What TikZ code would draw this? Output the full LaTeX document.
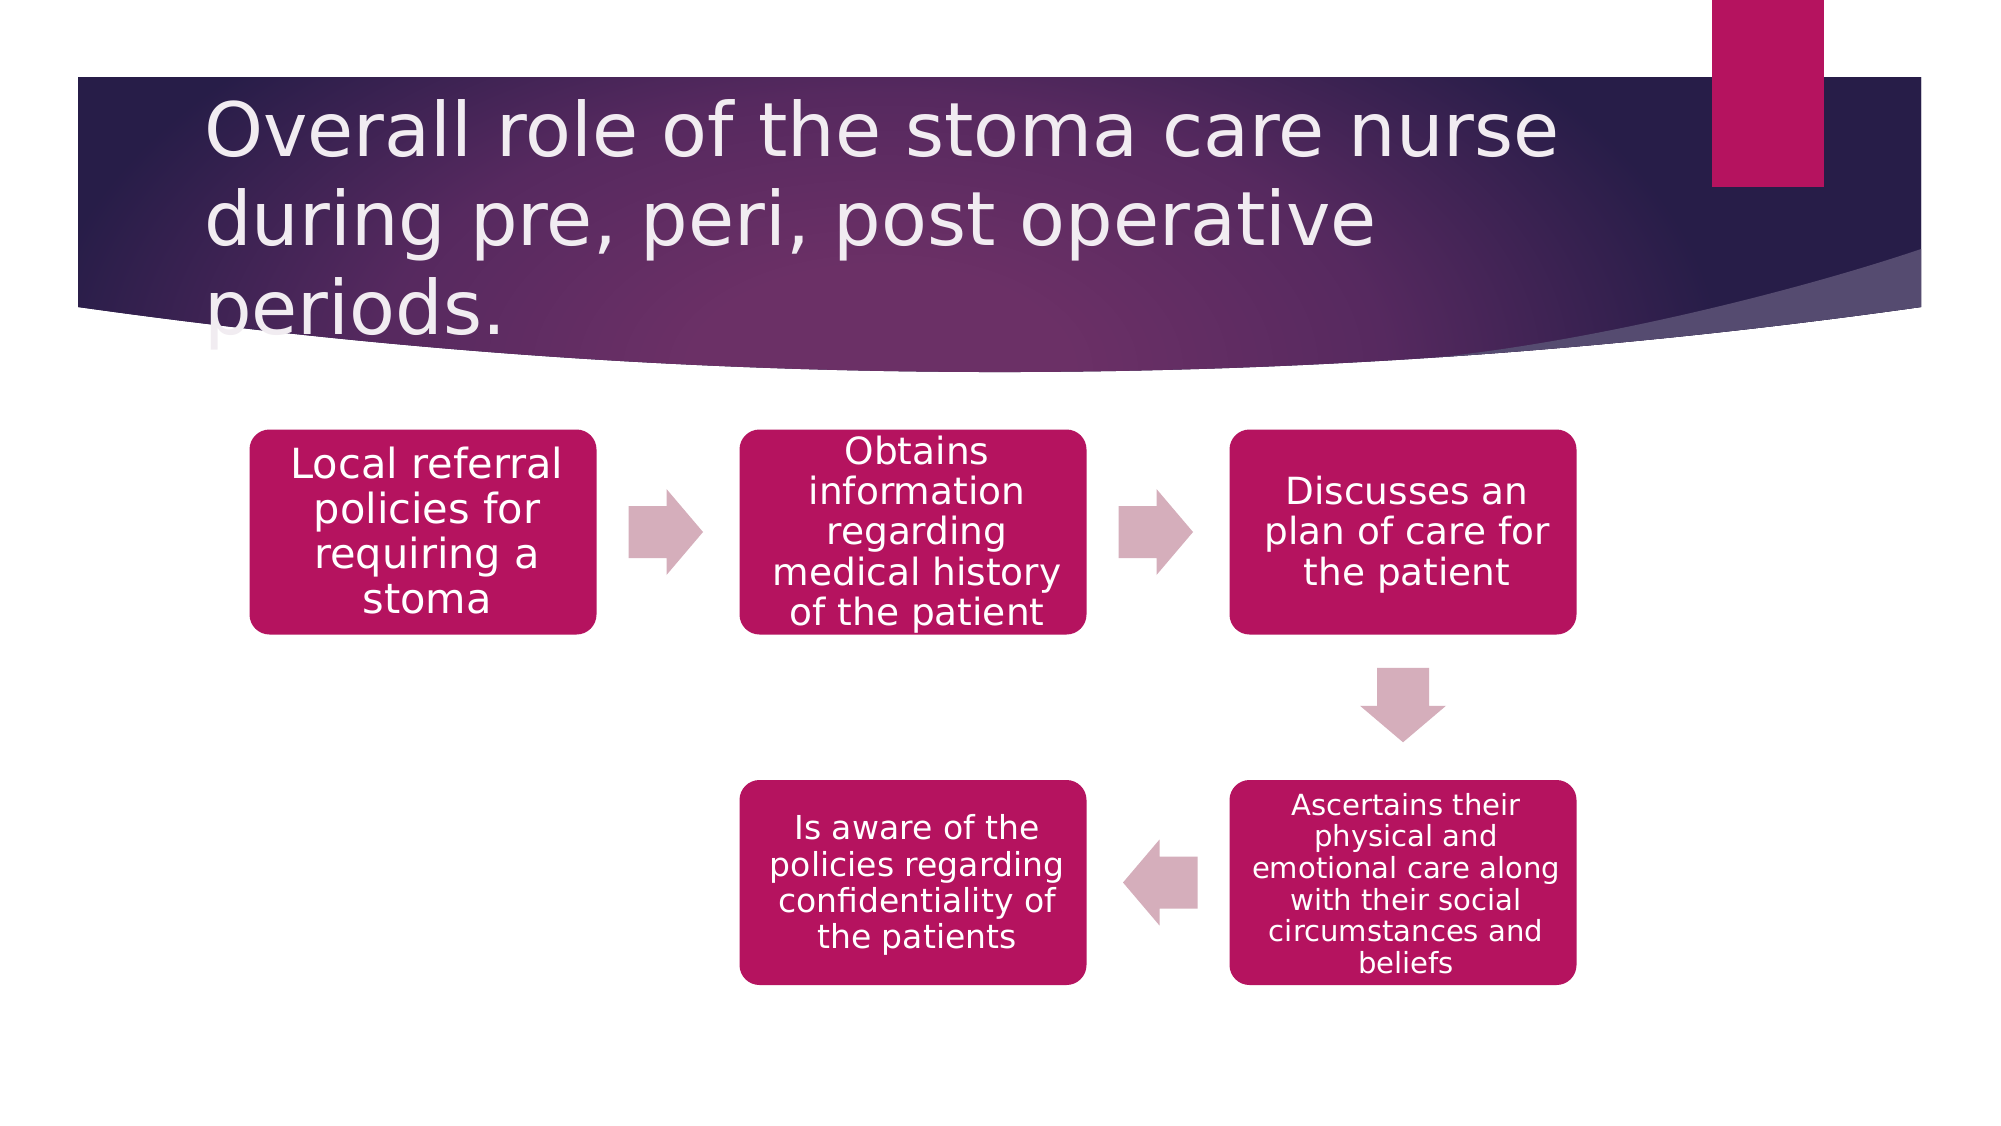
\documentclass[tikz,border=0pt]{standalone}
\usepackage{fontspec}
\setmainfont{DejaVu Sans}
\usetikzlibrary{calc}
\definecolor{boxc}{HTML}{B5135F}
\definecolor{arrowc}{HTML}{D5AEBB}
\definecolor{bandC}{HTML}{6B3066}
\definecolor{bandM}{HTML}{56295F}
\definecolor{bandE}{HTML}{271D48}
\definecolor{lav}{HTML}{554B70}
\definecolor{titlec}{HTML}{F1ECF1}
\pgfdeclareradialshading{bandshade}{\pgfpointorigin}{color(0bp)=(bandC); color(9bp)=(bandC); color(24bp)=(bandM); color(40bp)=(bandE); color(100bp)=(bandE)}
\newcommand\blockarrow[2]{\fill[arrowfill, shift={(#1)}, rotate=#2] (-39.5,-26) -- (-1.5,-26) -- (-1.5,-43) -- (35,0) -- (-1.5,43) -- (-1.5,26) -- (-39.5,26) -- cycle;}
\begin{document}
\begin{tikzpicture}[x=1pt,y=-1pt,
  box/.style={fill=boxc, rounded corners=20pt, minimum width=347pt, minimum height=205pt, inner sep=0pt},
  boxtext/.style={inner sep=0pt, align=center, text=white},
  arrowfill/.style={fill=arrowc},
  titletext/.style={anchor=base west, text=titlec, font=\fontsize{75}{89}\selectfont, inner sep=0pt}]
\useasboundingbox (0,0) rectangle (2001,1125);
\fill[white] (0,0) rectangle (2001,1125);
\begin{scope}
\clip (78,77) -- (1921,77) -- (1921,307) .. controls (1307,393.7) and (692.7,393.7) .. (78,307) -- cycle;
\fill[bandE] (0,0) rectangle (2001,420);
\begin{scope}
\pgftransformshift{\pgfpoint{880pt}{-370pt}}
\pgftransformxscale{21}
\pgftransformyscale{11.5}
\pgflowlevelsynccm
\pgfuseshading{bandshade}
\end{scope}
\fill[lav] (1921,249) .. controls (1800,290) and (1600,340) .. (1440,357) -- (1440,420) -- (1940,420) -- (1940,249) -- cycle;
\end{scope}
\fill[boxc] (1712,0) rectangle (1824,187);
\node[titletext] (t1) at (204,156) {Overall role of the stoma care nurse};
\node[titletext] (t2) at (204,245) {during pre, peri, post operative};
\node[titletext] (t3) at (204,334) {periods.};
\node[box] (b1) at (423,532) {};
\node[box] (b2) at (913,532) {};
\node[box] (b3) at (1403,532) {};
\node[box] (b4) at (1403,882.5) {};
\node[box] (b5) at (913,882.5) {};
\node[boxtext, font=\fontsize{41.5}{44.7}\selectfont] (b1t) at ($(b1.center)+(4,-1.5)$) {Local referral\\policies for\\requiring a\\stoma};
\node[boxtext, font=\fontsize{37.5}{40.4}\selectfont] (b2t) at ($(b2.center)+(4,2.5)$) {Obtains\\information\\regarding\\medical history\\of the patient};
\node[boxtext, font=\fontsize{37.4}{40.8}\selectfont] (b3t) at ($(b3.center)+(4,2.5)$) {Discusses an\\plan of care for\\the patient};
\node[boxtext, font=\fontsize{29.1}{31.6}\selectfont] (b4t) at ($(b4.center)+(3,1)$) {Ascertains their\\physical and\\emotional care along\\with their social\\circumstances and\\beliefs};
\node[boxtext, font=\fontsize{33}{36.2}\selectfont] (b5t) at ($(b5.center)+(4,2.5)$) {Is aware of the\\policies regarding\\confidentiality of\\the patients};
\coordinate (m12) at ($(b1.east)!0.5!(b2.west)$);
\coordinate (m23) at ($(b2.east)!0.5!(b3.west)$);
\coordinate (m34) at ($(b3.south)!0.5!(b4.north)$);
\coordinate (m45) at ($(b4.west)!0.5!(b5.east)$);
\blockarrow{m12}{0}
\blockarrow{m23}{0}
\blockarrow{m34}{-90}
\blockarrow{m45}{180}
\end{tikzpicture}
\end{document}
